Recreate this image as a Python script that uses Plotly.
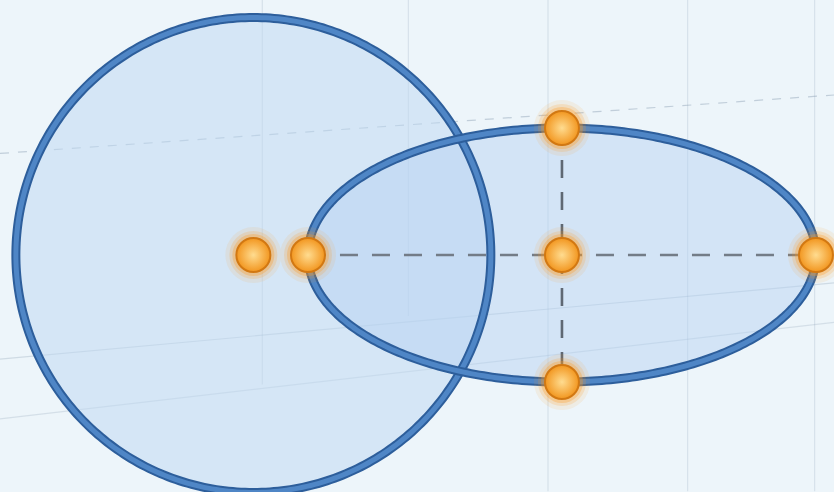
import numpy as np
import plotly.graph_objects as go

# ---- data (units: ellipse semi-minor axis = 1) ----
circle_center = [-2.43, 0.0]
circle_radius = [1.87]
ellipse_center = [0.0, 0.0]
ellipse_axes = [2.0, 1.0]          # semi-major, semi-minor
point_x = [-2.43, -2.0, 0.0, 2.0, 0.0, 0.0]
point_y = [0.0, 0.0, 0.0, 0.0, 1.0, -1.0]
grid_x = [-2.36, -1.21, -0.11, 0.99, 1.99]
grid_x_bottom = [-1.02, -0.48, -1.86, -1.86, -1.86]

xr = [-4.425, 2.142]
yr = [-1.866, 2.008]

fig = go.Figure()

t = np.linspace(0, 2 * np.pi, 361)
cx = circle_center[0] + circle_radius[0] * np.cos(t)
cy = circle_center[1] + circle_radius[0] * np.sin(t)
ex = ellipse_center[0] + ellipse_axes[0] * np.cos(t)
ey = ellipse_center[1] + ellipse_axes[1] * np.sin(t)

# background grid (faint, perspective look)
shapes = []
for gx, gb in zip(grid_x, grid_x_bottom):
    shapes.append(dict(type="line", xref="x", yref="y", x0=gx, x1=gx, y0=yr[1], y1=gb,
                       line=dict(color="rgba(150,170,190,0.3)", width=1), layer="below"))
slants = [
    (xr[0], 0.80, xr[1], 1.26, "dash", 0.45),
    (xr[0], -0.82, xr[1], -0.22, "solid", 0.3),
    (xr[0], -1.29, xr[1], -0.53, "solid", 0.25),
]
for x0, y0, x1, y1, dash, a in slants:
    shapes.append(dict(type="line", xref="x", yref="y", x0=x0, y0=y0, x1=x1, y1=y1,
                       line=dict(color=f"rgba(140,160,180,{a})", width=1.2, dash=dash), layer="below"))

# fills
fig.add_trace(go.Scatter(x=cx, y=cy, mode="lines", fill="toself",
                         fillcolor="rgba(190,215,242,0.5)", line=dict(width=0, simplify=False),
                         hoverinfo="skip"))
fig.add_trace(go.Scatter(x=ex, y=ey, mode="lines", fill="toself",
                         fillcolor="rgba(180,208,242,0.45)", line=dict(width=0, simplify=False),
                         hoverinfo="skip"))

# outlines (dark edge + lighter core)
for xs, ys in [(cx, cy), (ex, ey)]:
    fig.add_trace(go.Scatter(x=xs, y=ys, mode="lines",
                             line=dict(color="#2d5e9b", width=9, simplify=False), hoverinfo="skip"))
    fig.add_trace(go.Scatter(x=xs, y=ys, mode="lines",
                             line=dict(color="#4f86c6", width=5, simplify=False), hoverinfo="skip"))

# dashed axes of ellipse
dash_style = "18px,14px"
fig.add_trace(go.Scatter(x=[point_x[1], point_x[3]], y=[point_y[1], point_y[3]], mode="lines",
                         line=dict(color="#737c87", width=2.6, dash=dash_style), hoverinfo="skip"))
fig.add_trace(go.Scatter(x=[point_x[4], point_x[5]], y=[point_y[4], point_y[5]], mode="lines",
                         line=dict(color="#5f6873", width=2.6, dash=dash_style), hoverinfo="skip"))

# glowing points
for size, op in [(56, 0.1), (48, 0.18), (42, 0.3)]:
    fig.add_trace(go.Scatter(x=point_x, y=point_y, mode="markers", opacity=op,
                             marker=dict(size=size, color="#ff9a1f", line=dict(width=0)),
                             hoverinfo="skip"))
fig.add_trace(go.Scatter(x=point_x, y=point_y, mode="markers",
                         marker=dict(size=34, color="#f2961f",
                                     gradient=dict(type="radial", color="#ffdc90"),
                                     line=dict(color="#d27812", width=2)),
                         hoverinfo="skip"))

bg = "#edf5fa"
fig.update_layout(
    width=834, height=492, margin=dict(l=0, r=0, t=0, b=0),
    paper_bgcolor=bg, plot_bgcolor=bg,
    showlegend=False, shapes=shapes,
    xaxis=dict(range=xr, visible=False, fixedrange=True),
    yaxis=dict(range=yr, visible=False, fixedrange=True),
)

fig.write_html("out.html", config={"displayModeBar": False},
               post_script="document.body.style.margin='0';document.body.style.background='" + bg + "';")
